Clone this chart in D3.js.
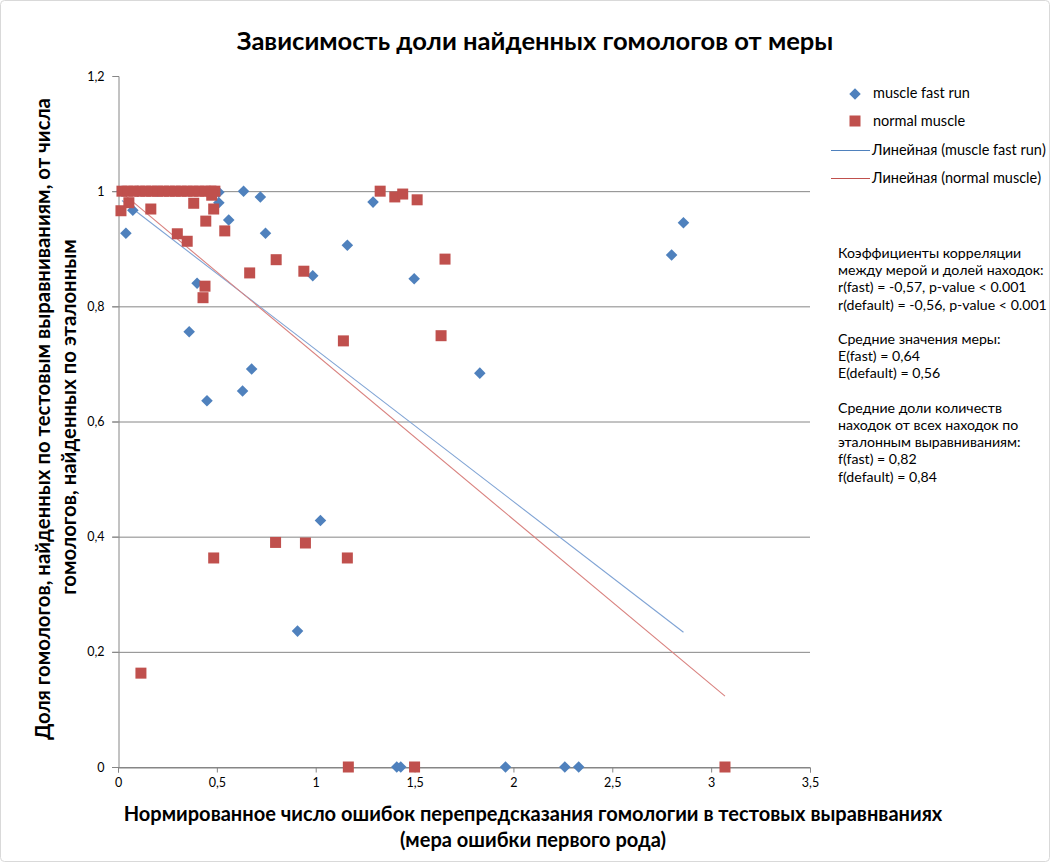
<!DOCTYPE html>
<html><head><meta charset="utf-8">
<script src="https://cdn.jsdelivr.net/npm/d3@7"></script>
<style>
body{margin:0;background:#fff;}
text{font-family:Lato,"Open Sans",sans-serif;}
</style></head>
<body><svg id="c" width="1051" height="863"></svg>
<script>
// ---- data ----
const fastX = [0.02,0.10,0.20,0.04,0.075,0.40,0.36,0.45,0.51,0.51,0.56,0.635,0.63,0.676,0.72,0.746,0.985,1.16,1.29,1.498,1.024,0.908,1.41,1.43,1.96,2.26,2.33,1.83,2.80,2.86];
const fastY = [1.0,1.0,1.0,0.927,0.967,0.84,0.756,0.636,0.98,0.998,0.95,1.0,0.653,0.691,0.99,0.927,0.853,0.906,0.981,0.848,0.428,0.236,0,0,0,0,0,0.684,0.889,0.945];
const normX = [0.02,0.05,0.08,0.11,0.14,0.17,0.20,0.23,0.26,0.29,0.32,0.35,0.38,0.41,0.44,0.47,0.49,
  0.015,0.055,0.166,0.383,0.444,0.484,0.30,0.35,0.54,0.474,0.44,0.43,0.666,0.80,0.94,
  1.326,1.40,1.44,1.513,1.654,1.634,1.14,0.484,0.797,0.948,1.16,0.116,1.165,1.50,3.07];
const normY = [1,1,1,1,1,1,1,1,1,1,1,1,1,1,1,1,1,
  0.966,0.98,0.969,0.979,0.948,0.969,0.926,0.913,0.931,0.993,0.835,0.815,0.858,0.881,0.861,
  1.0,0.99,0.995,0.985,0.882,0.749,0.74,0.363,0.39,0.389,0.363,0.163,0,0,0];
// trendlines: [intercept, slope], x-range
const trendFast = [0.989,-0.264]; const trendFastRange=[0.02,2.86];
const trendNorm = [1.003,-0.2866]; const trendNormRange=[0.015,3.07];
const xTicks = [0,0.5,1,1.5,2,2.5,3,3.5];
const yTicks = [0,0.2,0.4,0.6,0.8,1.0,1.2];
const seriesNames = ["muscle fast run","normal muscle","Линейная (muscle fast run)","Линейная (normal muscle)"];
const title = "Зависимость доли найденных гомологов от меры";
const xLabel = ["Нормированное число ошибок перепредсказания гомологии в тестовых выравнваниях","(мера ошибки первого рода)"];
const yLabel = ["Доля гомологов, найденных по тестовым выравниваниям, от числа","гомологов, найденных по эталонным"];
const notes = ["Коэффициенты корреляции","между мерой и долей находок:","r(fast) = -0,57, p-value < 0.001","r(default) = -0,56, p-value < 0.001","","Средние значения меры:","E(fast) = 0,64","E(default) = 0,56","","Средние доли количеств","находок от всех находок по","эталонным выравниваниям:","f(fast) = 0,82","f(default) = 0,84"];

const blue="#4F81BD", red="#C0504D";
const svg=d3.select("#c");
svg.append("rect").attr("x",0.5).attr("y",0.5).attr("width",1049).attr("height",861).attr("fill","#fff").attr("stroke","#d9d9d9").attr("rx",4);

// scale font size of a text node so that its width equals target
function fit(sel,target){
  const n=sel.node(); const w=n.getComputedTextLength(); const fs=+sel.attr("font-size");
  sel.attr("font-size",fs*target/w); return fs*target/w;
}

const L=118,R=810,T=76,B=767;
const x=d3.scaleLinear().domain([0,3.5]).range([L,R]);
const y=d3.scaleLinear().domain([0,1.2]).range([B,T]);
const fmt=d=>String(+d.toFixed(1)).replace(".",",");

// gridlines
svg.append("g").selectAll("line").data(yTicks.filter(d=>d<1.2)).join("line")
 .attr("x1",L-6).attr("x2",R).attr("y1",d=>y(d)+0.5).attr("y2",d=>y(d)+0.5)
 .attr("stroke","#868686").attr("stroke-width",1);
// y axis
const ya=svg.append("g").attr("transform",`translate(${L+0.5},0)`)
 .call(d3.axisLeft(y).tickValues(yTicks).tickFormat(fmt).tickSize(6).tickPadding(8));
ya.select(".domain").attr("stroke","#868686");
ya.selectAll(".tick line").attr("stroke","#868686");
ya.selectAll("text").attr("font-size",12.5).attr("fill","#000");
// x axis
const xa=svg.append("g").attr("transform",`translate(0,${B+0.5})`)
 .call(d3.axisBottom(x).tickValues(xTicks).tickFormat(fmt).tickSize(5).tickPadding(6));
xa.select(".domain").attr("stroke","#868686");
xa.selectAll(".tick line").attr("stroke","#868686");
xa.selectAll("text").attr("font-size",12.5).attr("fill","#000");

// trendlines
function tl(c,r,col){
  svg.append("line").attr("x1",x(r[0])).attr("y1",y(c[0]+c[1]*r[0]))
   .attr("x2",x(r[1])).attr("y2",y(c[0]+c[1]*r[1])).attr("stroke",col).attr("stroke-width",1.1);
}
tl(trendFast,trendFastRange,"#7FA3D4");
tl(trendNorm,trendNormRange,"#D9827F");

// markers
const fast=fastX.map((d,i)=>[d,fastY[i]]);
const norm=normX.map((d,i)=>[d,normY[i]]);
const dia=d3.symbol().type(d3.symbolDiamond2).size(85);
svg.append("g").selectAll("path").data(fast).join("path")
 .attr("d",dia).attr("transform",d=>`translate(${x(d[0])},${y(d[1])})`).attr("fill",blue);
svg.append("g").selectAll("rect").data(norm).join("rect")
 .attr("x",d=>x(d[0])-5.5).attr("y",d=>y(d[1])-5.5).attr("width",11).attr("height",11).attr("fill",red);

// title
fit(svg.append("text").attr("x",535).attr("y",50).attr("text-anchor","middle")
 .attr("font-size",21).attr("font-weight","bold").text(title),597);
// x label
const xl1=svg.append("text").attr("x",533).attr("y",821).attr("text-anchor","middle")
 .attr("font-size",17).attr("font-weight","bold").text(xLabel[0]);
const xfs=fit(xl1,819);
svg.append("text").attr("x",533).attr("y",847).attr("text-anchor","middle")
 .attr("font-size",xfs).attr("font-weight","bold").text(xLabel[1]);
// y label
const yl1=svg.append("text").attr("transform",`translate(50,419) rotate(-90)`)
 .attr("text-anchor","middle").attr("font-size",17).attr("font-weight","bold").text(yLabel[0]);
const yfs=fit(yl1,642);
svg.append("text").attr("transform",`translate(76,417) rotate(-90)`)
 .attr("text-anchor","middle").attr("font-size",yfs).attr("font-weight","bold").text(yLabel[1]);

// legend
const lg=svg.append("g");
lg.append("path").attr("d",dia).attr("transform","translate(855,94)").attr("fill",blue);
lg.append("rect").attr("x",849.5).attr("y",115.5).attr("width",11).attr("height",11).attr("fill",red);
lg.append("line").attr("x1",831).attr("x2",870).attr("y1",150.5).attr("y2",150.5).attr("stroke",blue);
lg.append("line").attr("x1",831).attr("x2",870).attr("y1",178.5).attr("y2",178.5).attr("stroke",red);
const lt=seriesNames.map((t,i)=>lg.append("text").attr("x",i<2?873:872).attr("y",98+i*28.3)
 .attr("font-size",12.5).text(t));
const lfs=fit(lt[2],174);
lt.forEach(s=>s.attr("font-size",lfs));

// notes
const nt=notes.map((t,i)=>svg.append("text").attr("x",838).attr("y",258+i*17.2).attr("font-size",12).text(t));
const nfs=fit(nt[3],209);
nt.forEach(s=>s.attr("font-size",nfs));
</script></body></html>
